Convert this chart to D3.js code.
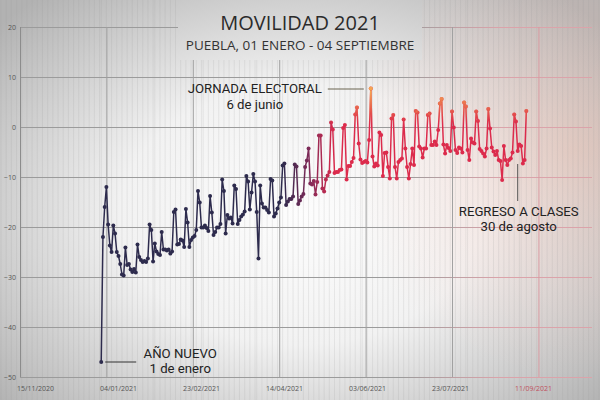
<!DOCTYPE html>
<html><head><meta charset="utf-8">
<script src="https://cdn.jsdelivr.net/npm/d3@7"></script>
<style>html,body{margin:0;padding:0;background:#fff;} svg{display:block}</style>
</head><body><svg id="c" width="600" height="400"></svg>
<script>
// ---------------- DATA ----------------
const startDate = "2021-01-01";   // first value = 1 de enero, one value per day
const values = [
  -47, -22, -16, -12,
  -19.5, -23.7, -25, -19.7, -21.3, -25, -25.8, -27.4, -29.5, -29.7,
  -24.1, -27.6, -27.4, -28.5, -29, -28.4, -29.1,
  -23.5, -26, -26.6, -27, -26.8, -27, -26.3,
  -19.5, -20.6, -26.9, -23.3, -24.9, -25.4, -25.6,
  -21, -24.5, -24.5, -24.7, -24.5, -25.3, -24.9,
  -17, -16.5, -23.5, -23.4, -22.5, -22.7, -24,
  -16.4, -19.1, -24, -22.6, -22.1, -21.8, -20.6,
  -12.8, -15.1, -20.1, -20.1, -19.7, -20.2, -20.8,
  -13.8, -17.1, -21.6, -21, -20.1, -20.1, -19.4,
  -10.5, -12.8, -21.3, -17.6, -18.3, -18.1, -19.3,
  -11.7, -12.4, -19.4, -18.6, -17.9, -17.5, -16.9,
  -9.8, -10.9, -16.5, -13.1, -9.4, -10.9, -17,
  -26.3, -11.7, -15.3, -16.1, -16.1, -16.6, -17.1,
  -10.4, -10.7, -17.9, -17.3, -16.3, -15.1, -14.1,
  -7.7, -7.3, -15.6, -14.9, -14.4, -14.4, -13.9,
  -7.5, -7.9, -15.4, -14.7, -13.9, -13.4, -8,
  -6.7, -4.3, -11.3, -11.5, -10.8, -13.5, -11,
  -1.7, -1.7, -12.3, -12.9, -10.5, -9.7, -9,
  0.9, -0.5, -9.2, -9, -9, -8.6, -8.5,
  -0.2, 0.4, -10.5, -7.8, -7.8, -7, -6.2,
  2.5, 3.9, -3.3, -6.5, -7.2, -7, -6.8,
  -7.1, -2.6, 7.7, -5.9, -7.9, -7.3, -7.7,
  -1.1, -1.6, -9.8, -5.2, -5.1, -8, -10.3,
  1.7, 2.4, -8, -10.3, -7, -6.6, -6.3,
  1.5, -4.3, -8, -10.3, -7.4, -4.3, -7.6,
  3.2, 2.9, -3.9, -4.3, -6.1, -4.3, -4.3,
  2.4, 2.7, -3.6, -3.6, -2.9, -3.6, -0.6,
  4.7, 5.6, -3.5, -5.3, -3.6, -4.2, -4.8,
  3.1, -0.1, -4.6, -5.2, -4.1, -4.3, -5.1,
  4.9, 4.1, -4.6, -6.6, -2.3, -3.1, -3.3,
  3.1, 1.2, -4.4, -4.8, -5.3, -5.9, -4.3,
  3.6, -0.3, -4.1, -4.9, -5.6, -4.8, -6.6,
  -6.8, -10.6, -3.8, -6.6, -7.6, -6.6, -6.3,
  -5.1, 2.5, 1.1, -4.8, -3.5, -3.8, -7.3, -6.6, 3.2
];
const yTicks = [20, 10, 0, -10, -20, -30, -40, -50];
const xTickDates = ["2020-11-15","2021-01-04","2021-02-23","2021-04-14","2021-06-03","2021-07-23","2021-09-11"];
const xTickLabels = ["15/11/2020","04/01/2021","23/02/2021","14/04/2021","03/06/2021","23/07/2021","11/09/2021"];
const xDomain = ["2020-11-15","2021-10-12"];
const title = "MOVILIDAD 2021";
const subtitle = "PUEBLA, 01 ENERO - 04 SEPTIEMBRE";
const annotationDates = ["2021-01-01","2021-06-06","2021-08-30"];
const annotationTexts = [["AÑO NUEVO","1 de enero"],["JORNADA ELECTORAL","6 de junio"],["REGRESO A CLASES","30 de agosto"]];

// ---------------- CHART ----------------
const W = 600, H = 400;
const FONT = "Open Sans, sans-serif";
const AFONT = "Roboto, sans-serif";
const svg = d3.select("#c");
const parse = d3.utcParse("%Y-%m-%d");
const t0 = parse(startDate);
const data = values.map((v, i) => ({date: d3.utcDay.offset(t0, i), v}));

const x = d3.scaleUtc().domain(xDomain.map(parse)).range([20, 592]);
const y = d3.scaleLinear().domain([-50, 20]).range([377, 27]);
// tick-label row is slightly narrower than the plot in the original
const xLab = d3.scaleUtc().domain([parse(xTickDates[0]), parse(xTickDates[xTickDates.length-1])]).range([35, 533]);

const defs = svg.append("defs");
const bg = defs.append("radialGradient").attr("id","bg").attr("gradientUnits","userSpaceOnUse")
  .attr("cx",300).attr("cy",215).attr("r",400)
  .attr("gradientTransform","translate(300,215) scale(1,0.72) translate(-300,-215)");
[[0,"#fdfdfd"],[0.45,"#f2f2f2"],[0.75,"#cfcfcf"],[1,"#b2b2b2"]].forEach(s=>bg.append("stop").attr("offset",s[0]).attr("stop-color",s[1]));

const warm = defs.append("radialGradient").attr("id","warm").attr("gradientUnits","userSpaceOnUse")
  .attr("cx",575).attr("cy",150).attr("r",230);
[[0,"#ffb49a",0.32],[0.6,"#ffc0b0",0.14],[1,"#ffc0b0",0]].forEach(s=>warm.append("stop").attr("offset",s[0]).attr("stop-color",s[1]).attr("stop-opacity",s[2]));

const gridH = defs.append("linearGradient").attr("id","gridH").attr("gradientUnits","userSpaceOnUse")
  .attr("x1",400).attr("x2",500).attr("y1",0).attr("y2",0);
[[0,"#9b9b9b"],[1,"#dba3aa"]].forEach(s=>gridH.append("stop").attr("offset",s[0]).attr("stop-color",s[1]));

const lineG = defs.append("linearGradient").attr("id","lineG").attr("gradientUnits","userSpaceOnUse")
  .attr("x1",282).attr("x2",335).attr("y1",0).attr("y2",0);
[[0,"#2d2b4d"],[0.5,"#7d2a58"],[1,"#dc2b4c"]].forEach(s=>lineG.append("stop").attr("offset",s[0]).attr("stop-color",s[1]));

const hot = defs.append("linearGradient").attr("id","hot").attr("gradientUnits","userSpaceOnUse")
  .attr("x1",0).attr("x2",0).attr("y1",y(0.5)).attr("y2",y(7));
[[0,"#f08a48",0],[1,"#f4a552",1]].forEach(s=>hot.append("stop").attr("offset",s[0]).attr("stop-color",s[1]).attr("stop-opacity",s[2]));

// background
svg.append("rect").attr("width",W).attr("height",H).attr("fill","url(#bg)");
svg.append("rect").attr("width",W).attr("height",H).attr("fill","url(#warm)");

// texture stripes (every 3 days)
const stripeDays = d3.utcDay.every(3).range(d3.utcDay.offset(x.domain()[0],-12), d3.utcDay.offset(x.domain()[1],6));
svg.append("g").selectAll("line").data(stripeDays).join("line")
  .attr("x1",d=>x(d)).attr("x2",d=>x(d)).attr("y1",0).attr("y2",H)
  .attr("stroke","#9a9a9a").attr("stroke-opacity",0.17).attr("stroke-width",1);

// gridlines
const g = svg.append("g");
g.selectAll(".hg").data(yTicks).join("line")
  .attr("x1",x.range()[0]).attr("x2",x.range()[1]).attr("y1",d=>y(d)+0.5).attr("y2",d=>y(d)+0.5)
  .attr("stroke","url(#gridH)").attr("stroke-width",1);
g.selectAll(".vg").data(xTickDates).join("line")
  .attr("x1",d=>x(parse(d))+0.5).attr("x2",d=>x(parse(d))+0.5).attr("y1",y(20)).attr("y2",y(-50))
  .attr("stroke",(d,i)=> i===xTickDates.length-1 ? "#d89aa2" : "#a0a0a0").attr("stroke-width",1);

// title box hides grid behind title
svg.append("rect").attr("x",178).attr("y",0).attr("width",244).attr("height",60).attr("fill","url(#bg)");

// axes labels
const yAxis = d3.axisLeft(y).tickValues(yTicks).tickSize(0).tickPadding(4);
const ya = svg.append("g").attr("transform",`translate(${x.range()[0]},0)`).call(yAxis);
ya.select(".domain").remove();
ya.selectAll("text").attr("font-family",FONT).attr("font-size",7).attr("fill","#555");

const xAxis = d3.axisBottom(xLab).tickValues(xTickDates.map(parse)).tickSize(0).tickPadding(9)
  .tickFormat((d,i)=>xTickLabels[i]);
const xa = svg.append("g").attr("transform",`translate(0,${y(-50)})`).call(xAxis);
xa.select(".domain").remove();
xa.selectAll("text").attr("font-family",FONT).attr("font-size",7)
  .attr("fill",(d,i)=> i===xTickLabels.length-1 ? "#c0505e" : "#555");

// title
svg.append("text").attr("x",300).attr("y",30).attr("text-anchor","middle")
  .attr("font-family",FONT).attr("font-size",20).attr("fill","#2b2b2b").text(title);
svg.append("text").attr("x",300).attr("y",50).attr("text-anchor","middle")
  .attr("font-family",FONT).attr("font-size",13.5).attr("fill","#333").text(subtitle);

// annotations
const ann = annotationDates.map((d,i)=>{
  const dd = parse(d);
  const p = data.find(e=>+e.date===+dd);
  return {date: dd, v: p.v, texts: annotationTexts[i]};
});
const aG = svg.append("g").attr("font-family",AFONT).attr("fill","#222");
const ASIZE = 13.2, STEP = 15.6;
function twoLine(cx, by, lines){
  aG.append("text").attr("x",cx).attr("y",by).attr("text-anchor","middle").attr("font-size",ASIZE).text(lines[0]);
  aG.append("text").attr("x",cx).attr("y",by+STEP).attr("text-anchor","middle").attr("font-size",ASIZE).text(lines[1]);
}
{ // AÑO NUEVO
  const a = ann[0], px = x(a.date), py = y(a.v);
  svg.append("line").attr("x1",px+4).attr("x2",px+35).attr("y1",py).attr("y2",py).attr("stroke","#333").attr("stroke-width",1);
  twoLine(px+79, py-4.5, a.texts);
}
{ // JORNADA ELECTORAL
  const a = ann[1], px = x(a.date), py = y(a.v);
  svg.append("line").attr("x1",px-43).attr("x2",px-7).attr("y1",py+0.5).attr("y2",py+0.5).attr("stroke","#6b6450").attr("stroke-width",1);
  twoLine(px-116, py+4.5, a.texts);
}
{ // REGRESO A CLASES
  const a = ann[2], px = x(a.date), py = y(a.v);
  svg.append("line").attr("x1",px).attr("x2",px).attr("y1",py+13).attr("y2",py+50).attr("stroke","#555").attr("stroke-width",1);
  twoLine(px+1, py+64.5, a.texts);
}

// series line
const line = d3.line().x(d=>x(d.date)).y(d=>y(d.v));
svg.append("path").datum(data).attr("d",line).attr("fill","none").attr("stroke","url(#lineG)").attr("stroke-width",1.5).attr("stroke-linejoin","round");
svg.append("path").datum(data).attr("d",line).attr("fill","none").attr("stroke","url(#hot)").attr("stroke-width",1.5).attr("stroke-linejoin","round");
svg.append("g").selectAll("circle").data(data).join("circle")
  .attr("cx",d=>x(d.date)).attr("cy",d=>y(d.v)).attr("r",2).attr("fill","url(#lineG)");
svg.append("g").selectAll("circle").data(data).join("circle")
  .attr("cx",d=>x(d.date)).attr("cy",d=>y(d.v)).attr("r",2).attr("fill","url(#hot)");

// plot frame (left)
svg.append("line").attr("x1",20.5).attr("x2",20.5).attr("y1",y(20)).attr("y2",y(-50)).attr("stroke","#8c8c8c");
</script></body></html>
